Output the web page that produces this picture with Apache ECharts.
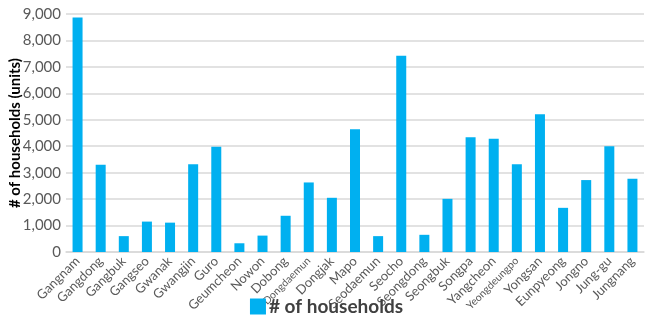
<!DOCTYPE html>
<html>
<head>
<meta charset="utf-8">
<script src="https://cdn.jsdelivr.net/npm/echarts@6/dist/echarts.min.js"></script>
<style>
  html, body { margin: 0; padding: 0; background: #fff; }
  #chart { width: 653px; height: 325px; }
</style>
</head>
<body>
<div id="chart"></div>
<script>
// Districts of Seoul and household counts per district
const districts = ['Gangnam', 'Gangdong', 'Gangbuk', 'Gangseo', 'Gwanak', 'Gwangjin', 'Guro',
  'Geumcheon', 'Nowon', 'Dobong', 'Dongdaemun', 'Dongjak', 'Mapo', 'Seodaemun', 'Seocho',
  'Seongdong', 'Seongbuk', 'Songpa', 'Yangcheon', 'Yeongdeungpo', 'Yongsan', 'Eunpyeong',
  'Jongno', 'Jung-gu', 'Jungnang'];
const households = [8870, 3300, 600, 1150, 1110, 3320, 3980,
  330, 620, 1370, 2630, 2050, 4640, 600, 7420,
  650, 2010, 4340, 4280, 3320, 5210, 1670,
  2720, 4000, 2770];
const seriesName = '# of households';
const yAxisTitle = '# of households (units)';
const yMax = 9000;
const yStep = 1000;

const font = 'Lato, "Open Sans", sans-serif';
const chart = echarts.init(document.getElementById('chart'), null, { renderer: 'canvas' });
chart.setOption({
  animation: false,
  textStyle: { fontFamily: font },
  grid: { left: 66, right: 9, top: 14, bottom: 73, containLabel: false, outerBoundsMode: 'none' },
  legend: {
    data: [seriesName],
    bottom: 4,
    left: 'center',
    itemWidth: 16,
    itemHeight: 16,
    itemGap: 4,
    icon: 'rect',
    textStyle: { fontSize: 19, fontWeight: 'bold', color: '#404040', fontFamily: font, padding: [0, 0, 0, -2] }
  },
  xAxis: {
    type: 'category',
    data: districts,
    axisTick: { show: false },
    axisLine: { lineStyle: { color: '#d9d9d9', width: 1.5 } },
    axisLabel: {
      rotate: 45, interval: 0, margin: 7, fontFamily: font,
      // the longest district names are set in a smaller size so they fit the slot
      formatter: name => name.length >= 10 ? '{s|' + name + '}' : '{n|' + name + '}',
      rich: {
        n: { fontSize: 13, color: '#595959', fontFamily: font },
        s: { fontSize: 10.5, color: '#595959', fontFamily: font }
      }
    }
  },
  yAxis: {
    type: 'value',
    min: 0,
    max: yMax,
    interval: yStep,
    name: yAxisTitle,
    nameLocation: 'middle',
    nameGap: 43,
    nameMoveOverlap: false,
    nameRotate: 90,
    nameTextStyle: { fontSize: 15, fontWeight: 'bold', color: '#000', fontFamily: font },
    axisLine: { show: false },
    axisTick: { show: false },
    axisLabel: {
      fontSize: 15, color: '#595959', margin: 5, fontFamily: font,
      formatter: v => v.toLocaleString('en-US')
    },
    splitLine: { lineStyle: { color: '#d9d9d9', width: 1.5 } }
  },
  series: [{
    name: seriesName,
    type: 'bar',
    data: households,
    barWidth: 10,
    itemStyle: { color: '#00b0f0' }
  }]
});
</script>
</body>
</html>
